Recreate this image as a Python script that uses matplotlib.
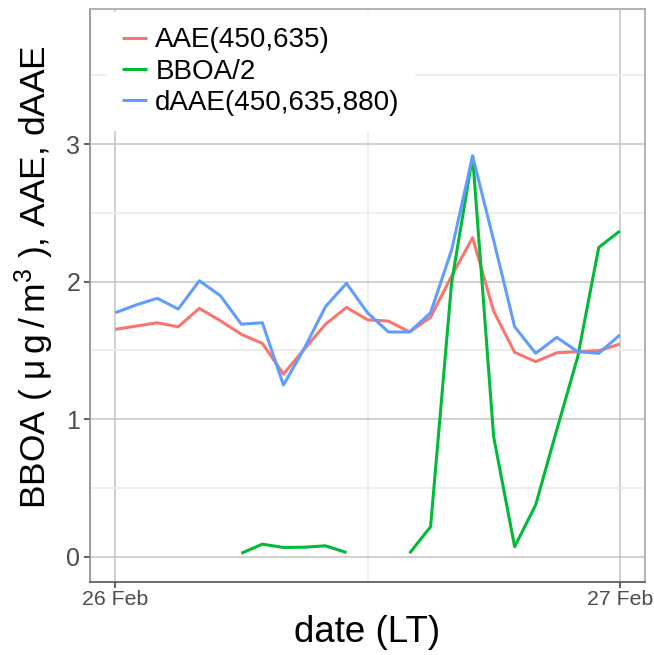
import numpy as np
import pandas as pd
import matplotlib
matplotlib.use("Agg")
import matplotlib.pyplot as plt
import matplotlib.dates as mdates

plt.rcParams['font.family'] = ['Liberation Sans', 'DejaVu Sans']

# hourly values, 26 Feb 00:00 -> 27 Feb 00:00
times = pd.date_range("2016-02-26 00:00", "2016-02-27 00:00", freq="h")
aae = [1.652, 1.676, 1.70, 1.671, 1.805, 1.715, 1.616, 1.55, 1.327, 1.51,
       1.689, 1.812, 1.722, 1.712, 1.633, 1.74, 2.04, 2.319, 1.785, 1.485,
       1.417, 1.482, 1.49, 1.497, 1.545]
bboa_half = [np.nan, np.nan, np.nan, np.nan, np.nan, np.nan,
             0.024, 0.09, 0.066, 0.068, 0.078, 0.029, np.nan, np.nan,
             0.024, 0.217, 1.99, 2.913, 0.871, 0.071, 0.376, 0.92, 1.453,
             2.248, 2.367]
daae = [1.773, 1.83, 1.878, 1.80, 2.006, 1.897, 1.69, 1.70, 1.247, 1.516,
        1.817, 1.987, 1.773, 1.633, 1.633, 1.773, 2.229, 2.913, 2.30, 1.671,
        1.478, 1.594, 1.49, 1.478, 1.611]

series = [("AAE(450,635)", aae, "#F8766D"),
          ("BBOA/2", bboa_half, "#00BA38"),
          ("dAAE(450,635,880)", daae, "#619CFF")]

fig = plt.figure(figsize=(6.54, 6.55), dpi=100)
ax = fig.add_axes([90 / 654, 1 - 581.7 / 655, (645 - 90) / 654, (581.7 - 9.3) / 655])

for name, vals, col in series:
    ax.plot(times, vals, color=col, lw=2.2, label=name, solid_capstyle="butt")

pad = pd.Timedelta(hours=1.2)
ax.set_xlim(times[0] - pad, times[-1] + pad)
ax.set_ylim(-0.183, 3.98)

ax.xaxis.set_major_locator(mdates.DayLocator())
ax.xaxis.set_major_formatter(mdates.DateFormatter("%d %b"))
ax.xaxis.set_minor_locator(mdates.HourLocator(byhour=[12]))
ax.set_yticks([0, 1, 2, 3])
ax.set_yticks([0.5, 1.5, 2.5, 3.5], minor=True)

ax.grid(which="major", color="#c4c4c4", lw=1.1)
ax.grid(which="minor", color="#ededed", lw=1.3)
ax.set_axisbelow(True)

for s in ["top", "right"]:
    ax.spines[s].set_color("#a6a6a6")
ax.spines["left"].set_color("#8a8a8a")
ax.spines["bottom"].set_color("#555555")
for s in ax.spines.values():
    s.set_linewidth(1.2)

ax.tick_params(axis="y", which="major", labelsize=18, labelcolor="#4d4d4d",
               color="#444444", length=4, width=1.2, pad=3)
ax.tick_params(axis="x", which="major", labelsize=15.3, labelcolor="#4d4d4d",
               color="#444444", length=4, width=1.2, pad=2)
ax.tick_params(which="minor", length=0)

ax.set_xlabel("date (LT)", fontsize=26.5, labelpad=4)
ax.set_ylabel(r"BBOA ( $\mathregular{\mu\,g\,/\,m^3}$ ), AAE, dAAE", fontsize=25.5)
ax.yaxis.set_label_coords(-0.062, 0.533)

leg = ax.legend(loc="upper left", bbox_to_anchor=(0.03, 0.995), borderaxespad=0,
                fontsize=20, frameon=True, fancybox=False, framealpha=1,
                facecolor="white", edgecolor="none", handlelength=0.9,
                handletextpad=0.3, labelspacing=0.19, borderpad=0.55)

fig.savefig("out.png", dpi=100)
